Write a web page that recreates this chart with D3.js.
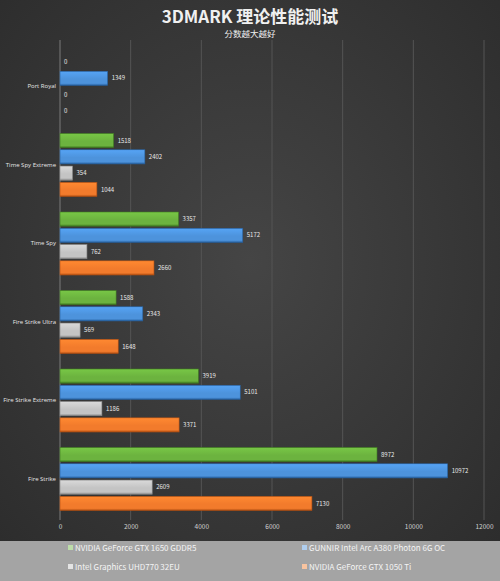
<!DOCTYPE html>
<html><head><meta charset="utf-8">
<script src="https://cdn.jsdelivr.net/npm/d3@7"></script>
<style>html,body{margin:0;padding:0;background:#333;}svg{display:block;}</style>
</head><body>
<svg id="c" width="500" height="581"></svg>
<script>
const categories = ["Port Royal","Time Spy Extreme","Time Spy","Fire Strike Ultra","Fire Strike Extreme","Fire Strike"];
const seriesNames = ["NVIDIA GeForce GTX 1650  GDDR5","GUNNIR Intel Arc A380 Photon 6G OC","Intel Graphics UHD770 32EU","NVIDIA GeForce GTX 1050 Ti"];
const gtx1650 = [0,1518,3357,1588,3919,8972];
const a380 = [1349,2402,5172,2343,5101,10972];
const uhd770 = [0,354,762,569,1186,2609];
const gtx1050ti = [0,1044,2660,1648,3371,7130];
const xTicks = [0,2000,4000,6000,8000,10000,12000];
const colors = ["#6cb33f","#4d93dc","#c4c4c4","#f27b2c"];
const darks = ["#3f7a20","#26609f","#8a8a8a","#b24f12"];
const title = "3DMARK 理论性能测试";
const subtitle = "分数越大越好";

const seriesVals = [gtx1650,a380,uhd770,gtx1050ti];
const svg = d3.select("#c");
const W=500,H=581;
const font = "'Noto Sans CJK SC','Open Sans',sans-serif";
const defs = svg.append("defs");
const bg = defs.append("radialGradient").attr("id","bg").attr("cx","50%").attr("cy","45%").attr("r","75%");
bg.append("stop").attr("offset","0%").attr("stop-color","#454545");
bg.append("stop").attr("offset","100%").attr("stop-color","#2b2b2b");
colors.forEach((c,i)=>{
  const g=defs.append("linearGradient").attr("id","g"+i).attr("x1",0).attr("y1",0).attr("x2",0).attr("y2",1);
  g.append("stop").attr("offset","0%").attr("stop-color",d3.color(c).brighter(0.3));
  g.append("stop").attr("offset","55%").attr("stop-color",c);
  g.append("stop").attr("offset","85%").attr("stop-color",c);
  g.append("stop").attr("offset","100%").attr("stop-color",darks[i]);
});
svg.append("rect").attr("width",W).attr("height",H).attr("fill","url(#bg)");

const x = d3.scaleLinear().domain([0,12000]).range([60,484]);
const y = d3.scaleBand().domain(categories).range([47,518]);
const inner = d3.scaleBand().domain(d3.range(4)).range([8,71]).paddingInner(0.13);

// gridlines
svg.append("g").selectAll("line").data(xTicks.slice(1)).join("line")
  .attr("x1",d=>x(d)).attr("x2",d=>x(d)).attr("y1",40).attr("y2",520)
  .attr("stroke","#555").attr("stroke-width",1);
svg.append("line").attr("x1",x(0)).attr("x2",x(0)).attr("y1",40).attr("y2",520)
  .attr("stroke","#7a7a7a").attr("stroke-width",1);

// axis
const ax = svg.append("g").attr("transform","translate(0,520)")
  .call(d3.axisBottom(x).tickValues(xTicks).tickSize(0).tickPadding(4).tickFormat(d3.format("d")));
ax.select(".domain").remove();
ax.selectAll("text").attr("fill","#d0d0d0").attr("font-size",6.5).attr("font-family",font);

// category labels
const ay = svg.append("g").attr("transform","translate(56,0)")
  .call(d3.axisLeft(y).tickSize(0).tickPadding(0));
ay.select(".domain").remove();
ay.selectAll("text").attr("fill","#e6e6e6").attr("font-size",6).attr("font-family","'Open Sans',sans-serif");

// bars
categories.forEach((cat,ci)=>{
  seriesVals.forEach((vals,si)=>{
    const v=vals[ci];
    const by=y(cat)+inner(si);
    const bw=x(v)-x(0);
    if(bw>0){
      svg.append("rect").attr("x",x(0)).attr("y",by).attr("width",bw).attr("height",inner.bandwidth())
        .attr("fill","url(#g"+si+")").attr("stroke",darks[si]).attr("stroke-width",0.6);
    }
    svg.append("text").attr("x",x(v)+4).attr("y",by+inner.bandwidth()/2).attr("dy","0.35em")
      .attr("fill","#e8e8e8").attr("font-size",6).attr("font-family",font).text(v);
  });
});

// titles
svg.append("text").attr("x",250).attr("y",23).attr("text-anchor","middle").attr("fill","#f0f0f0")
  .attr("font-size",17).attr("font-weight","bold").attr("font-family",font).text(title);
svg.append("text").attr("x",250).attr("y",37).attr("text-anchor","middle").attr("fill","#f0f0f0")
  .attr("font-size",8.5).attr("font-family",font).text(subtitle);

// legend band
svg.append("rect").attr("x",0).attr("y",541).attr("width",W).attr("height",H-541).attr("fill","#a4a4a4");
const legPos=[[68,548],[302,548],[68,567],[302,567]];
seriesNames.forEach((n,i)=>{
  const [lx,ly]=legPos[i];
  svg.append("rect").attr("x",lx).attr("y",ly-3).attr("width",5).attr("height",5).attr("fill",d3.interpolateRgb(colors[i],"#ffffff")(0.55));
  svg.append("text").attr("x",lx+7).attr("y",ly).attr("dy","0.35em").attr("fill","#f4f4f4")
    .attr("font-size",8).attr("font-family",font).text(n);
});
</script>
</body></html>
